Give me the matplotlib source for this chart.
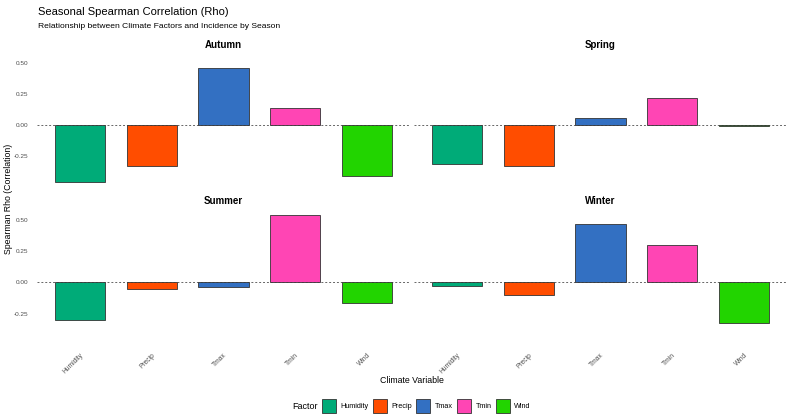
import matplotlib
matplotlib.use("Agg")
import matplotlib.pyplot as plt
from matplotlib.patches import Patch

plt.rcParams['font.family'] = ['Liberation Sans', 'DejaVu Sans']

seasons = ["Autumn", "Spring", "Summer", "Winter"]
factors = ["Humidity", "Precip", "Tmax", "Tmin", "Wind"]
rho_autumn = [-0.457, -0.328, 0.462, 0.137, -0.411]
rho_spring = [-0.315, -0.328, 0.058, 0.218, -0.008]
rho_summer = [-0.299, -0.050, -0.037, 0.536, -0.163]
rho_winter = [-0.032, -0.099, 0.464, 0.301, -0.328]
colors = ["#00AB78", "#FF4D00", "#3370C2", "#FF45B4", "#22D400"]

values = {"Autumn": rho_autumn, "Spring": rho_spring,
          "Summer": rho_summer, "Winter": rho_winter}

W, H = 793, 419
fig = plt.figure(figsize=(W / 100, H / 100), dpi=100)
fig.patch.set_facecolor("white")


def rect(x0, x1, ytop, ybot):
    return [x0 / W, 1 - ybot / H, (x1 - x0) / W, (ybot - ytop) / H]


allv = rho_autumn + rho_spring + rho_summer + rho_winter
lo, hi = min(allv), max(allv)
pad = 0.05 * (hi - lo)
ylim = (lo - pad, hi + pad)

panel_rects = {
    "Autumn": rect(37, 410, 52.6, 188.2),
    "Spring": rect(414, 787, 52.6, 188.2),
    "Summer": rect(37, 410, 209, 345.7),
    "Winter": rect(414, 787, 209, 345.7),
}
strip_y = {"Autumn": 44.5, "Spring": 44.5, "Summer": 201, "Winter": 201}

for i, s in enumerate(seasons):
    ax = fig.add_axes(panel_rects[s])
    xs = list(range(len(factors)))
    ax.axhline(0, color="#666666", lw=0.7, ls=(0, (2, 2)), zorder=1)
    ax.bar(xs, values[s], width=0.7, color=colors, edgecolor="#333333",
           linewidth=0.6, zorder=2)
    ax.set_xlim(-0.6, len(factors) - 0.4)
    ax.set_ylim(*ylim)
    for sp in ax.spines.values():
        sp.set_visible(False)
    ax.set_yticks([-0.25, 0.0, 0.25, 0.50])
    ax.tick_params(length=0)
    if i % 2 == 0:
        ax.set_yticklabels(["-0.25", "0.00", "0.25", "0.50"], fontsize=4.6,
                           color="#4D4D4D")
        ax.tick_params(axis="y", pad=6.5)
    else:
        ax.set_yticklabels([])
    ax.set_xticks(xs)
    if i >= 2:
        ax.set_xticklabels(factors, fontsize=4.8, color="#4D4D4D",
                           rotation=45, ha="right", va="top",
                           rotation_mode="anchor")
        ax.tick_params(axis="x", pad=4.3)
    else:
        ax.set_xticklabels([])
    p = panel_rects[s]
    fig.text(p[0] + p[2] / 2, 1 - strip_y[s] / H, s, ha="center",
             va="center", fontsize=7, fontweight="bold")

fig.text(38 / W, 1 - 12 / H, "Seasonal Spearman Correlation (Rho)",
         ha="left", va="center", fontsize=8)
fig.text(38 / W, 1 - 27 / H,
         "Relationship between Climate Factors and Incidence by Season",
         ha="left", va="center", fontsize=6.1)
fig.text(412 / W, 1 - 380 / H, "Climate Variable", ha="center", va="center",
         fontsize=6.3)
fig.text(9 / W, 1 - 199 / H, "Spearman Rho (Correlation)", ha="center",
         va="center", rotation=90, fontsize=6.3)

handles = [Patch(facecolor=c, edgecolor="#333333", linewidth=0.6)
           for c in colors]
fig.text(318 / W, 1 - 406 / H, "Factor", ha="right", va="center",
         fontsize=6.5)
leg = fig.legend(handles, factors, loc="center left",
                 bbox_to_anchor=(322 / W, 1 - 406 / H), ncol=5,
                 frameon=False, fontsize=5.2, handlelength=1.95,
                 handleheight=2.6, handletextpad=0.6, columnspacing=0.6,
                 borderpad=0, borderaxespad=0)

fig.savefig("out.png", dpi=100, facecolor="white")
